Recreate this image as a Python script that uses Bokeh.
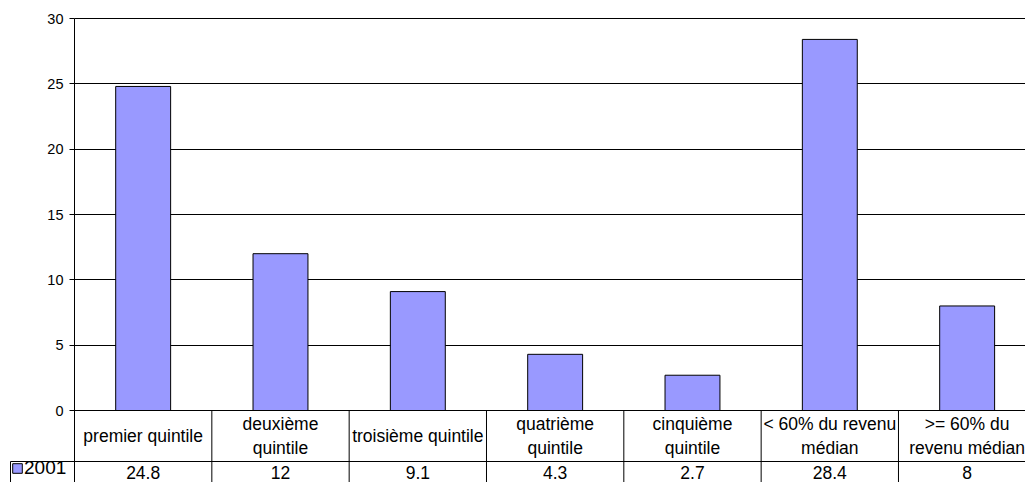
from bokeh.plotting import figure
from bokeh.models import (Range1d, FixedTicker, LinearAxis, Grid, Legend,
                          LegendItem, ColumnDataSource)
from bokeh.core.properties import value
from bokeh.embed import file_html
from bokeh.resources import INLINE

# ---- data ----
categories = ["premier quintile", "deuxième\nquintile", "troisième quintile",
              "quatrième\nquintile", "cinquième\nquintile",
              "< 60% du revenu\nmédian", ">= 60% du\nrevenu médian"]
series_name = "2001"
values = [24.8, 12, 9.1, 4.3, 2.7, 28.4, 8]
y_ticks = [0, 5, 10, 15, 20, 25, 30]

# ---- layout constants (pixels) ----
W, H = 1025, 482
top_border = 2
top_pad_px = 16       # frame top -> value 30
cat_px = 137.33
axis_px = 74          # frame left -> category 0
legend_left_px = 10   # frame left -> table's left border
plot_px = 392
row1_px = 51
row2_text_px = 11
FONT = "Liberation Sans"

n = len(categories)
ymax = y_ticks[-1]
ppu = plot_px / ymax
frame_h = H - top_border
y_top = ymax + top_pad_px / ppu
y_bottom = y_top - frame_h / ppu
x_start = -axis_px / cat_px
x_end = x_start + W / cat_px
legend_x = x_start + legend_left_px / cat_px
row1_y = -row1_px / ppu
row1_center = row1_y / 2
row2_center = -(row1_px + row2_text_px) / ppu

p = figure(width=W, height=H, x_range=Range1d(x_start, x_end),
           y_range=Range1d(y_bottom, y_top),
           x_axis_location=None, y_axis_location=None,
           toolbar_location=None, output_backend="svg",
           min_border_left=0, min_border_right=0,
           min_border_top=top_border, min_border_bottom=0)
p.xgrid.visible = False
p.ygrid.visible = False
p.outline_line_color = None
p.background_fill_color = "white"

ticker = FixedTicker(ticks=y_ticks)
p.add_layout(Grid(dimension=1, ticker=ticker, grid_line_color="black",
                  grid_line_width=1, cross_bounds=(0, n)))

yaxis = LinearAxis(fixed_location=0, ticker=ticker, bounds=(y_bottom, ymax),
                   major_label_text_font=FONT,
                   major_label_text_font_size="14.5px",
                   major_label_text_color="black",
                   major_tick_out=5, major_tick_in=0,
                   minor_tick_out=0, minor_tick_in=0,
                   major_label_standoff=6,
                   axis_line_color="black", major_tick_line_color="black")
p.add_layout(yaxis, "left")

centers = [i + 0.5 for i in range(n)]
src = ColumnDataSource(dict(x=centers, top=values, cat=categories,
                            lab=[f"{v:g}" for v in values]))
bars = p.vbar(x="x", top="top", bottom=0, width=0.4, source=src,
              fill_color="#9999FF", line_color="black", line_width=1)

# table lines
p.segment(x0=[0, legend_x], y0=[0, row1_y], x1=[n, n], y1=[0, row1_y],
          line_color="black", line_width=1)
vx = list(range(1, n)) + [legend_x]
vy0 = [0] * (n - 1) + [row1_y]
p.segment(x0=vx, y0=vy0, x1=vx, y1=[y_bottom] * len(vx),
          line_color="black", line_width=1)

p.text(x="x", y=row1_center, text="cat", source=src, text_align="center",
       text_baseline="middle", text_font=value(FONT), text_font_size="17.5px",
       text_line_height=1.2, text_color="black")
p.text(x="x", y=row2_center, text="lab", source=src, text_align="center",
       text_baseline="middle", text_font=value(FONT), text_font_size="17.5px",
       text_color="black")

legend = Legend(items=[LegendItem(label=series_name, renderers=[bars])],
                location=(11, 3), border_line_color=None,
                background_fill_alpha=0, padding=0, margin=0, spacing=0,
                glyph_width=12, glyph_height=12, label_standoff=1,
                label_height=14, label_text_font=FONT,
                label_text_color="black",
                label_text_font_size="19px")
p.add_layout(legend)

open("out.html", "w").write(file_html(p, INLINE))
